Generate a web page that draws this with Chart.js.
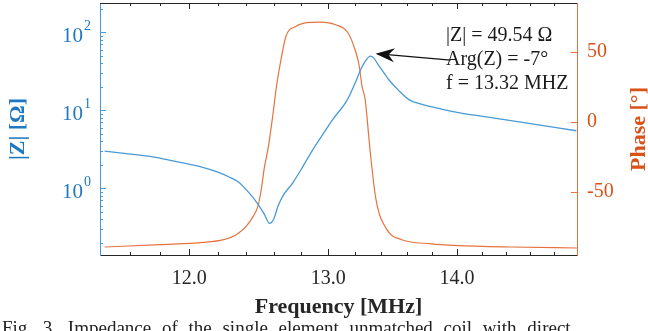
<!DOCTYPE html>
<html>
<head>
<meta charset="utf-8">
<script src="https://cdn.jsdelivr.net/npm/chart.js@4.4.0/dist/chart.umd.min.js"></script>
<style>
  html, body { margin: 0; padding: 0; background: #fff; overflow: hidden; }
  #wrap { position: relative; width: 648px; height: 331px; overflow: hidden; }
  #caption { position: absolute; left: 2px; top: 317px; font: 19px "Liberation Serif", serif; color: #222; white-space: nowrap; word-spacing: 6px; }
</style>
</head>
<body>
<div id="wrap">
  <canvas id="impedance-chart" width="648" height="331"></canvas>
  <div id="caption">Fig. 3. Impedance of the single element unmatched coil with direct</div>
</div>
<script>
// |Z| curve (left, log axis)
const zFreq = [11.43, 11.56, 11.76, 11.93, 12.10, 12.20, 12.28, 12.35, 12.40, 12.45, 12.484, 12.53, 12.568,
  12.59, 12.604, 12.627, 12.664, 12.736, 12.809, 12.883, 12.956, 13.03, 13.142, 13.196, 13.255, 13.286, 13.32,
  13.346, 13.376, 13.408, 13.469, 13.535, 13.624, 13.716, 13.874, 14.033, 14.195, 14.523, 14.995];
const zMag = [3.01, 2.81, 2.52, 2.17, 1.85, 1.62, 1.40, 1.187, 0.965, 0.762, 0.629, 0.469, 0.356,
  0.381, 0.428, 0.576, 0.797, 1.17, 1.875, 3.10, 4.82, 7.51, 13.55, 21.1, 36.2, 44.2, 49.54,
  46.8, 39.2, 32.9, 23.8, 18.2, 13.55, 12.0, 10.4, 9.23, 8.45, 7.08, 5.48];

// phase curve (right axis)
const phaseFreq = [11.43, 11.80, 12.10, 12.24, 12.33, 12.40, 12.45, 12.484, 12.508, 12.532, 12.556, 12.592,
  12.62, 12.651, 12.687, 12.76, 12.858, 12.943, 13.055, 13.149, 13.202, 13.232, 13.255, 13.279, 13.316,
  13.362, 13.446, 13.562, 13.795, 13.978, 14.44, 15.0];
const phaseDeg = [-89.3, -87.6, -86, -84, -80.5, -74.6, -67.4, -60.3, -48.4, -31.7, -19.8, 5,
  26.6, 44.5, 61.1, 68.3, 71.1, 71.4, 69.5, 63.6, 51.6, 40.9, 25.4, 15.9, -19.9,
  -55.5, -76.9, -84.1, -87, -88.1, -89.3, -90];

const xMajorTicks = [12, 13, 14];
const xMajorLabels = ['12.0', '13.0', '14.0'];
const xMinorTicks = [11.6, 11.8, 12.2, 12.4, 12.6, 12.8, 13.2, 13.4, 13.6, 13.8, 14.2, 14.4, 14.6, 14.8];
const zMajorTicks = [1, 10, 100];
const zMajorExponents = ['0', '1', '2'];
const zMinorTicks = [0.2, 0.3, 0.4, 0.5, 0.6, 0.7, 0.8, 0.9, 2, 3, 4, 5, 6, 7, 8, 9, 20, 30, 40, 50, 60, 70, 80, 90, 200];
const phaseTicks = [-50, 0, 50];
const phaseLabels = ['-50', '0', '50'];

const peakFreq = 13.32;
const peakMag = 49.54;
const noteLines = ['|Z| = 49.54 \u03A9', 'Arg(Z) = -7\u00B0', 'f = 13.32 MHZ'];

const blue = '#1f78c1';
const blueLine = '#4a9ad6';
const orange = '#d95319';
const orangeLine = '#e6733f';
const serif = '"Liberation Serif", "Times New Roman", serif';

function pairs(xs, ys) {
  return xs.map((x, i) => ({ x: x, y: ys[i] }));
}

function tickList(minor, major) {
  return minor.map(v => ({ value: v })).concat(major.map(v => ({ value: v })))
    .sort((a, b) => a.value - b.value);
}

function noPadding(scale) {
  scale.paddingTop = 0;
  scale.paddingBottom = 0;
  scale.paddingLeft = 0;
  scale.paddingRight = 0;
}

// inward MATLAB style ticks, frame, power-of-ten labels, right title and the annotation
const decorations = {
  id: 'decorations',
  afterDraw(chart) {
    const { ctx, chartArea: a, scales } = chart;
    ctx.save();
    ctx.lineWidth = 1;

    ctx.strokeStyle = '#262626';
    ctx.beginPath();
    ctx.moveTo(a.left, a.top + 0.5);
    ctx.lineTo(a.right, a.top + 0.5);
    ctx.stroke();

    ctx.beginPath();
    scales.x.ticks.forEach(t => {
      const px = Math.round(scales.x.getPixelForValue(t.value)) + 0.5;
      const len = xMajorTicks.includes(t.value) ? 6 : 3;
      ctx.moveTo(px, a.bottom);
      ctx.lineTo(px, a.bottom - len);
      ctx.moveTo(px, a.top);
      ctx.lineTo(px, a.top + len);
    });
    ctx.stroke();

    ctx.strokeStyle = blueLine;
    ctx.beginPath();
    scales.y.ticks.forEach(t => {
      const py = Math.round(scales.y.getPixelForValue(t.value)) + 0.5;
      const len = zMajorTicks.includes(t.value) ? 6 : 3;
      ctx.moveTo(a.left, py);
      ctx.lineTo(a.left + len, py);
    });
    ctx.stroke();

    ctx.strokeStyle = orangeLine;
    ctx.beginPath();
    scales.y1.ticks.forEach(t => {
      const py = Math.round(scales.y1.getPixelForValue(t.value)) + 0.5;
      ctx.moveTo(a.right, py);
      ctx.lineTo(a.right - 6, py);
    });
    ctx.stroke();

    // 10^n labels of the |Z| axis
    ctx.fillStyle = blue;
    ctx.textBaseline = 'middle';
    zMajorTicks.forEach((v, i) => {
      const py = scales.y.getPixelForValue(v);
      ctx.font = '14px ' + serif;
      ctx.textAlign = 'right';
      ctx.fillText(zMajorExponents[i], a.left - 9, py - 6);
      const ew = ctx.measureText(zMajorExponents[i]).width;
      ctx.font = '21px ' + serif;
      ctx.fillText('10', a.left - 10 - ew, py + 4);
    });

    // right axis title, reading bottom to top
    ctx.save();
    ctx.translate(639, (a.top + a.bottom) / 2);
    ctx.rotate(-Math.PI / 2);
    ctx.fillStyle = orange;
    ctx.font = 'bold 22px ' + serif;
    ctx.textAlign = 'center';
    ctx.textBaseline = 'middle';
    ctx.fillText('Phase [\u00B0]', 0, 0);
    ctx.restore();

    // arrow to the resonance peak
    const px = scales.x.getPixelForValue(peakFreq);
    const py = scales.y.getPixelForValue(peakMag);
    const tipX = px + 5, tipY = py - 2.5;
    const tailX = px + 80, tailY = py + 4;
    const ang = Math.atan2(tailY - tipY, tailX - tipX);
    const cos = Math.cos(ang), sin = Math.sin(ang);
    ctx.strokeStyle = '#111';
    ctx.fillStyle = '#111';
    ctx.lineWidth = 1.2;
    ctx.beginPath();
    ctx.moveTo(tipX + 12 * cos, tipY + 12 * sin);
    ctx.lineTo(tailX, tailY);
    ctx.stroke();
    ctx.beginPath();
    ctx.moveTo(tipX, tipY);
    ctx.lineTo(tipX + 19 * cos - 7 * sin, tipY + 19 * sin + 7 * cos);
    ctx.lineTo(tipX + 13 * cos, tipY + 13 * sin);
    ctx.lineTo(tipX + 19 * cos + 7 * sin, tipY + 19 * sin - 7 * cos);
    ctx.closePath();
    ctx.fill();

    ctx.fillStyle = '#1a1a1a';
    ctx.font = '20px ' + serif;
    ctx.textAlign = 'left';
    ctx.textBaseline = 'alphabetic';
    noteLines.forEach((line, i) => {
      ctx.fillText(line, 446, 41 + i * 24);
    });
    ctx.restore();
  }
};

function initChart() {
  const ctx = document.getElementById('impedance-chart');
  const config = {
    type: 'line',
    data: {
      datasets: [{
        label: '|Z|',
        data: pairs(zFreq, zMag),
        yAxisID: 'y',
        borderColor: blueLine,
        borderWidth: 1.3,
        pointRadius: 0,
        cubicInterpolationMode: 'monotone'
      }, {
        label: 'Phase',
        data: pairs(phaseFreq, phaseDeg),
        yAxisID: 'y1',
        borderColor: orangeLine,
        borderWidth: 1.2,
        pointRadius: 0,
        cubicInterpolationMode: 'monotone'
      }]
    },
    options: {
      responsive: false,
      animation: false,
      events: [],
      layout: { padding: { top: 3, left: 0, right: 0, bottom: 0 } },
      plugins: {
        legend: { display: false },
        tooltip: { enabled: false }
      },
      scales: {
        x: {
          type: 'logarithmic',
          min: 11.43,
          max: 15.0,
          afterBuildTicks: (scale) => { scale.ticks = tickList(xMinorTicks, xMajorTicks); },
          afterFit: (scale) => { scale.height = 76; noPadding(scale); },
          grid: { display: false, drawTicks: false },
          border: { display: true, color: '#262626', width: 1 },
          ticks: {
            autoSkip: false,
            maxRotation: 0,
            padding: 12,
            color: '#262626',
            font: { family: serif, size: 20 },
            callback: (value) => {
              const i = xMajorTicks.indexOf(value);
              return i >= 0 ? xMajorLabels[i] : '';
            }
          },
          title: {
            display: true,
            text: 'Frequency [MHz]',
            color: '#262626',
            font: { family: serif, size: 22, weight: 'bold' },
            padding: { top: 0, bottom: 10 }
          }
        },
        y: {
          type: 'logarithmic',
          position: 'left',
          min: 0.14,
          max: 238,
          afterBuildTicks: (scale) => { scale.ticks = tickList(zMinorTicks, zMajorTicks); },
          afterFit: (scale) => { scale.width = 100; noPadding(scale); },
          grid: { display: false, drawTicks: false },
          border: { display: true, color: blueLine, width: 1 },
          ticks: {
            autoSkip: false,
            padding: 9,
            font: { family: serif, size: 20 },
            callback: () => ''
          },
          title: {
            display: true,
            text: '|Z| [\u03A9]',
            color: blue,
            font: { family: serif, size: 22, weight: 'bold' },
            padding: { top: 5, bottom: 0 }
          }
        },
        y1: {
          type: 'linear',
          position: 'right',
          min: -95,
          max: 85,
          afterBuildTicks: (scale) => { scale.ticks = phaseTicks.map(v => ({ value: v })); },
          afterFit: (scale) => { scale.width = 71; noPadding(scale); },
          grid: { display: false, drawTicks: false },
          border: { display: true, color: orangeLine, width: 1 },
          ticks: {
            autoSkip: false,
            padding: 10,
            color: orange,
            font: { family: serif, size: 20 },
            callback: (value) => {
              const i = phaseTicks.indexOf(value);
              return i >= 0 ? phaseLabels[i] : '';
            }
          }
        }
      }
    },
    plugins: [decorations]
  };
  return new Chart(ctx, config);
}

const impedanceChart = initChart();
</script>
</body>
</html>
